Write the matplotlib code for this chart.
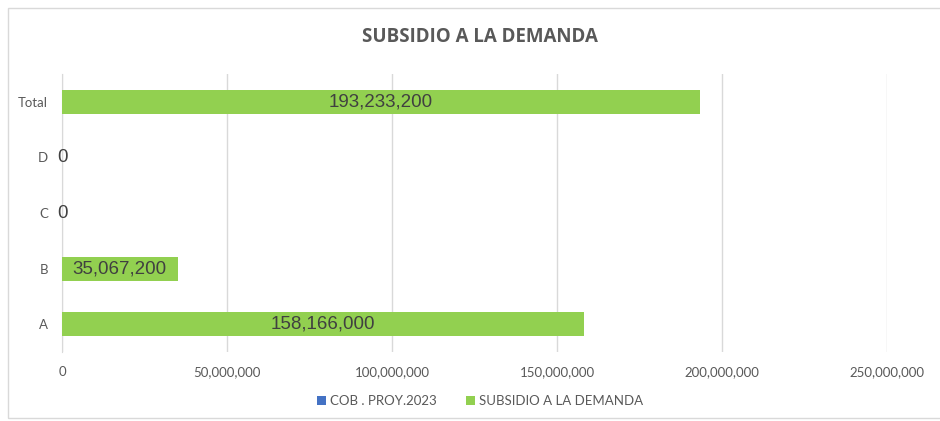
import matplotlib.pyplot as plt
from matplotlib.patches import Rectangle
import numpy as np

# Data
categories = ['A', 'B', 'C', 'D', 'Total']
cob_proy_2023 = [0, 0, 0, 0, 0]
subsidio = [158166000, 35067200, 0, 0, 193233200]
x_ticks = [0, 50000000, 100000000, 150000000, 200000000, 250000000]

blue = '#4472C4'
green = '#92D050'
grid_gray = '#D9D9D9'
text_gray = '#595959'

fig = plt.figure(figsize=(9.4, 4.21), dpi=100)
ax = fig.add_axes([62 / 940, 1 - 352 / 421, (887 - 62) / 940, (352 - 74) / 421])

# chart border
fig.patches.append(Rectangle((8 / 940, 3 / 421), 1.0, 1 - 11 / 421,
                             transform=fig.transFigure, fill=False,
                             edgecolor=grid_gray, linewidth=1))

y = np.arange(len(categories))
ax.barh(y, cob_proy_2023, height=0.43, color=blue, label='COB . PROY.2023')
ax.barh(y, subsidio, height=0.43, color=green, label='SUBSIDIO A LA DEMANDA')

# data labels centred in the bars
for yi, v in zip(y, subsidio):
    ax.text(v / 2, yi, f'{v:,.0f}', ha='center', va='center',
            fontsize=13.5, color='#404040', family='Liberation Sans')

ax.set_xlim(0, 250000000)
ax.set_ylim(-0.5, len(categories) - 0.5)
ax.set_xticks(x_ticks)
ax.set_xticklabels([f'{t:,.0f}' for t in x_ticks], fontsize=9.5, color=text_gray, family='Lato')
ax.set_yticks(y)
ax.set_yticklabels(categories, fontsize=9.5, color=text_gray, family='Lato')
ax.tick_params(axis='both', length=0)
ax.tick_params(axis='x', pad=10)
ax.tick_params(axis='y', pad=10)

ax.grid(axis='x', color=grid_gray, linewidth=1)
ax.set_axisbelow(True)
for s in ['top', 'right', 'bottom']:
    ax.spines[s].set_visible(False)
ax.spines['left'].set_color(grid_gray)
ax.spines['left'].set_zorder(0.5)

fig.text(480 / 940, 1 - 37 / 421, 'SUBSIDIO A LA DEMANDA', ha='center', va='center',
         fontsize=13.5, fontweight='bold', color=text_gray, family='Open Sans')

fig.legend(loc='center', bbox_to_anchor=(480 / 940, 1 - 401 / 421), ncol=2,
           frameon=False, handlelength=0.7, handleheight=0.7, handletextpad=0.3,
           columnspacing=2.2, prop={'family': 'Lato', 'size': 9.5},
           labelcolor=text_gray)

fig.savefig('out.png', dpi=100)
